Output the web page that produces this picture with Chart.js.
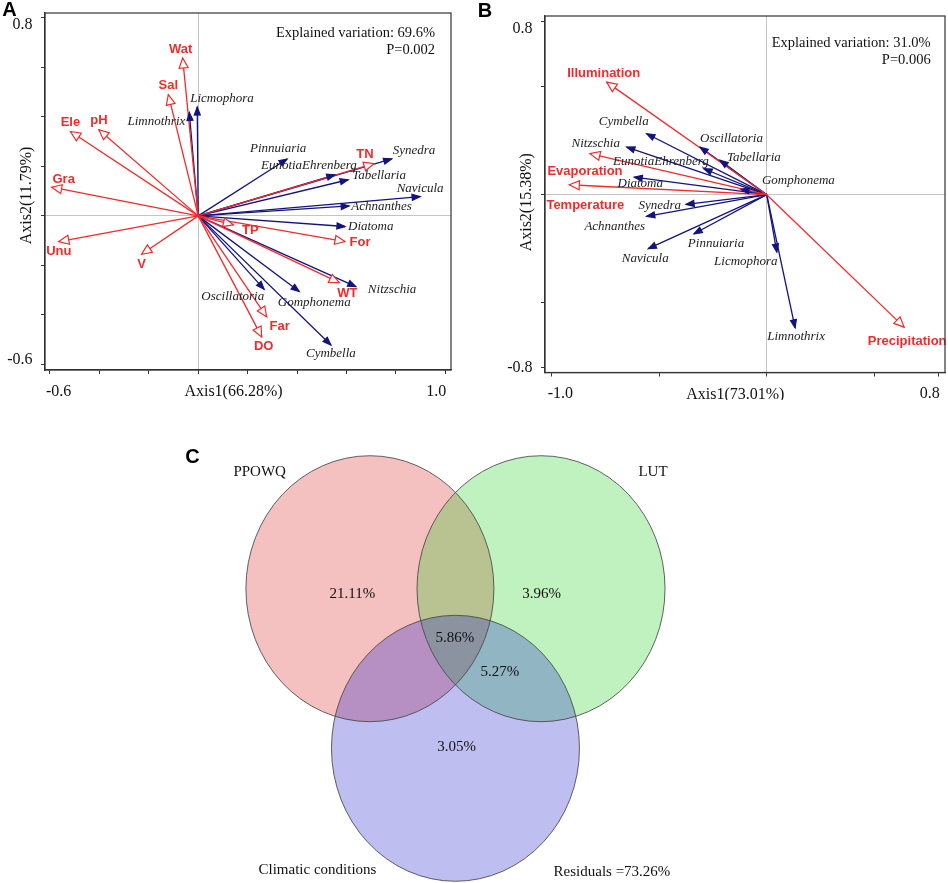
<!DOCTYPE html>
<html>
<head>
<meta charset="utf-8">
<script src="https://cdn.jsdelivr.net/npm/chart.js@4.4.1/dist/chart.umd.min.js"></script>
<style>
  body { margin: 0; background: #fff; width: 948px; height: 883px; position: relative; overflow: hidden; }
  canvas { position: absolute; }
</style>
</head>
<body>
<canvas id="chartA" width="474" height="400" style="left:0;top:0"></canvas>
<canvas id="chartB" width="474" height="400" style="left:474px;top:0"></canvas>
<canvas id="chartC" width="948" height="483" style="left:0;top:400px"></canvas>
<script>
// ---- Panel A: RDA, water quality / land use ----
const envNamesA = ['Wat', 'Sal', 'Ele', 'pH', 'Gra', 'Unu', 'V', 'TP', 'For', 'WT', 'Far', 'DO', 'TN'];
const envXA = [-0.063, -0.121, -0.517, -0.402, -0.593, -0.564, -0.229, 0.142, 0.594, 0.571, 0.277, 0.257, 0.711];
const envYA = [0.638, 0.49, 0.341, 0.348, 0.116, -0.104, -0.155, -0.036, -0.104, -0.27, -0.408, -0.489, 0.211];
const spNamesA = ['Licmophora', 'Limnothrix', 'Pinnuiaria', 'EunotiaEhrenberg', 'Tabellaria', 'Synedra', 'Navicula',
                  'Achnanthes', 'Diatoma', 'Nitzschia', 'Oscillatoria', 'Gomphonema', 'Cymbella'];
const spXA = [-0.004, -0.036, 0.36, 0.553, 0.607, 0.783, 0.898, 0.611, 0.594, 0.638, 0.267, 0.409, 0.537];
const spYA = [0.44, 0.418, 0.23, 0.166, 0.146, 0.23, 0.078, 0.04, -0.043, -0.286, -0.297, -0.306, -0.522];
const xTicksA = [-0.6, -0.4, -0.2, 0, 0.2, 0.4, 0.6, 0.8, 1.0];
const yTicksA = [-0.6, -0.4, -0.2, 0, 0.2, 0.4, 0.6, 0.8];

// ---- Panel B: RDA, climatic conditions ----
const envNamesB = ['Illumination', 'Evaporation', 'Temperature', 'Precipitation'];
const envXB = [-0.744, -0.822, -0.918, 0.639];
const envYB = [0.521, 0.19, 0.046, -0.613];
const spNamesB = ['Cymbella', 'Nitzschia', 'Oscillatoria', 'Tabellaria', 'EunotiaEhrenberg', 'Diatoma', 'Gomphonema',
                  'Synedra', 'Achnanthes', 'Pinnuiaria', 'Navicula', 'Licmophora', 'Limnothrix'];
const spXB = [-0.558, -0.651, -0.31, -0.217, -0.292, -0.616, -0.12, -0.375, -0.558, -0.338, -0.551, 0.047, 0.132];
const spYB = [0.282, 0.22, 0.22, 0.159, 0.12, 0.081, 0.025, -0.045, -0.1, -0.181, -0.25, -0.266, -0.616];
const xTicksB = [-1.0, -0.5, 0, 0.5, 0.8];
const yTicksB = [-0.8, -0.5, 0, 0.5, 0.8];

// ---- Panel C: variation partitioning ----
const vennSets = ['PPOWQ', 'LUT', 'Climatic conditions'];
const vennUnique = [21.11, 3.96, 3.05];     // PPOWQ only, LUT only, climate only
const vennShared = [5.86, 5.27];            // all three, LUT & climate
const vennResidual = 73.26;

// label offsets (px from arrow tip) - layout only
const envLabA = [[-2,-9,'center'],[0,-9,'center'],[0,-9,'center'],[0,-9,'center'],[12,-8,'center'],[0,10,'center'],
                 [0,10,'center'],[17,6,'center'],[15,1,'center'],[8,11,'center'],[13,10,'center'],[2,10,'center'],[-9,-9,'center']];
const spLabA = [[-7,-8,'left'],[-4,9,'right'],[-9,-10,'center'],[-26,-9,'center'],[4,-4,'left'],[1,-8,'left'],[0,-8,'center'],
                [2,1,'left'],[3,0,'left'],[12,3,'left'],[0,7,'right'],[15,11,'center'],[0,9,'center']];
const envLabB = [[-3,-9,'center'],[-5,18,'center'],[16,21,'center'],[3,14,'center']];
const spLabB = [[-23,-12,'center'],[-31,-4,'center'],[0,-9,'left'],[7,-3,'left'],[-43,-7,'center'],[6,6,'center'],[21,-9,'left'],
                [-5,1,'right'],[-32,10,'center'],[22,10,'center'],[-3,10,'center'],[-31,9,'center'],[1,9,'center']];

const RED = '#f22a2a';
const NAVY = '#13137f';
const SERIF = '"Liberation Serif", "Times New Roman", serif';
const SANS = '"Liberation Sans", Arial, sans-serif';

function arrowSets(names, xs, ys, labs, kind) {
    return names.map((n, i) => ({
        label: n,
        kind: kind,
        lab: labs[i],
        data: [{ x: 0, y: 0 }, { x: xs[i], y: ys[i] }],
        showLine: true,
        borderColor: kind === 'env' ? RED : NAVY,
        borderWidth: 1.3,
        pointRadius: 0,
        order: kind === 'env' ? 1 : 2
    }));
}

function drawHead(ctx, p0, p1, len, half, fill, stroke) {
    const a = Math.atan2(p1.y - p0.y, p1.x - p0.x);
    const bx = p1.x - len * Math.cos(a), by = p1.y - len * Math.sin(a);
    ctx.beginPath();
    ctx.moveTo(p1.x, p1.y);
    ctx.lineTo(bx + half * Math.sin(a), by - half * Math.cos(a));
    ctx.lineTo(bx - half * Math.sin(a), by + half * Math.cos(a));
    ctx.closePath();
    ctx.fillStyle = fill;
    ctx.fill();
    ctx.lineWidth = 1.2;
    ctx.strokeStyle = stroke;
    ctx.stroke();
}

const biplotPlugin = {
    id: 'biplot',
    afterDatasetsDraw(chart, args, o) {
        const ctx = chart.ctx;
        ctx.save();
        ctx.textBaseline = 'middle';
        // species first, env on top
        ['spe', 'env'].forEach(kind => {
            chart.data.datasets.forEach((ds, i) => {
                if (ds.kind !== kind) return;
                const pts = chart.getDatasetMeta(i).data;
                const p0 = pts[0], p1 = pts[1];
                if (kind === 'env') drawHead(ctx, p0, p1, 10, 4.5, '#fff', RED);
                else drawHead(ctx, p0, p1, 8, 3, NAVY, NAVY);
                ctx.fillStyle = kind === 'env' ? RED : '#222';
                ctx.font = kind === 'env' ? 'bold 13px ' + SANS : 'italic 13px ' + SERIF;
                ctx.textAlign = ds.lab[2];
                ctx.fillText(ds.label, p1.x + ds.lab[0], p1.y + ds.lab[1]);
            });
        });
        ctx.restore();
    },
    afterDraw(chart, args, o) {
        const ctx = chart.ctx;
        const a = chart.chartArea;
        const xs = chart.scales.x, ys = chart.scales.y;
        ctx.save();
        ctx.strokeStyle = '#333';
        ctx.lineWidth = 1.2;
        ctx.strokeRect(a.left, a.top, a.right - a.left, a.bottom - a.top);

        ctx.fillStyle = '#111';
        ctx.textBaseline = 'middle';
        ctx.font = '16px ' + SERIF;
        // end tick labels only
        const xt = o.xTicks, yt = o.yTicks;
        ctx.textAlign = 'left';
        ctx.fillText(xt[0].toFixed(1), xs.getPixelForValue(xt[0]) - 4, a.bottom + 21.5);
        ctx.textAlign = 'right';
        ctx.fillText(xt[xt.length - 1].toFixed(1), xs.getPixelForValue(xt[xt.length - 1]) + 1, a.bottom + 21.5);
        ctx.fillText(yt[yt.length - 1].toFixed(1), a.left - 12.5, ys.getPixelForValue(yt[yt.length - 1]) + 7);
        ctx.fillText(yt[0].toFixed(1), a.left - 12.5, ys.getPixelForValue(yt[0]) + o.yLowDy);

        // axis titles
        ctx.textAlign = 'center';
        ctx.fillText(o.xTitle, (a.left + a.right) / 2 + o.xTitleDx, a.bottom + 22);
        ctx.save();
        ctx.translate(a.left - 18.5, (a.top + a.bottom) / 2 + o.yTitleDy);
        ctx.rotate(-Math.PI / 2);
        ctx.fillText(o.yTitle, 0, 0);
        ctx.restore();

        // explained variation
        ctx.font = '14.5px ' + SERIF;
        ctx.textAlign = 'right';
        ctx.fillText(o.note, a.right - o.noteDx, a.top + o.noteDy);
        ctx.fillText(o.pval, a.right - o.noteDx, a.top + o.noteDy + 17);

        // panel letter
        ctx.font = 'bold 20px ' + SANS;
        ctx.textAlign = 'center';
        ctx.fillStyle = '#000';
        ctx.fillText(o.letter, o.letterX, o.letterY);
        ctx.restore();
    }
};

function axisCfg(min, max, ticks) {
    return {
        type: 'linear',
        min: min,
        max: max,
        afterBuildTicks: s => { s.ticks = ticks.map(v => ({ value: v })); },
        ticks: { display: false },
        title: { display: false },
        grid: {
            drawOnChartArea: true,
            drawTicks: true,
            tickLength: 4,
            lineWidth: 1,
            color: c => (c.tick && Math.abs(c.tick.value) < 1e-9) ? '#c4c4c4' : 'rgba(0,0,0,0)',
            tickColor: '#333'
        },
        border: { display: true, color: '#333', width: 1.2 }
    };
}

function makeBiplot(id, datasets, xr, yr, xTicks, yTicks, padding, opts) {
    opts.xTicks = xTicks;
    opts.yTicks = yTicks;
    return new Chart(document.getElementById(id), {
        type: 'scatter',
        data: { datasets: datasets },
        options: {
            responsive: false,
            animation: false,
            layout: { padding: padding },
            plugins: { legend: { display: false }, tooltip: { enabled: false }, biplot: opts },
            scales: { x: axisCfg(xr[0], xr[1], xTicks), y: axisCfg(yr[0], yr[1], yTicks) }
        },
        plugins: [biplotPlugin]
    });
}

makeBiplot('chartA',
    arrowSets(envNamesA, envXA, envYA, envLabA, 'env').concat(arrowSets(spNamesA, spXA, spYA, spLabA, 'spe')),
    [-0.62, 1.023], [-0.623, 0.82], xTicksA, yTicksA,
    { left: 41, top: 13, right: 23, bottom: 26 },
    { letter: 'A', letterX: 9.5, letterY: 10.5, xTitle: 'Axis1(66.28%)', yTitle: 'Axis2(11.79%)', yLowDy: -5,
      xTitleDx: -14.5, yTitleDy: 4, note: 'Explained variation: 69.6%', pval: 'P=0.002', noteDx: 16, noteDy: 20 });

makeBiplot('chartB',
    arrowSets(envNamesB, envXB, envYB, envLabB, 'env').concat(arrowSets(spNamesB, spXB, spYB, spLabB, 'spe')),
    [-1.031, 0.829], [-0.823, 0.827], xTicksB, yTicksB,
    { left: 67, top: 16, right: 3, bottom: 23.5 },
    { letter: 'B', letterX: 11, letterY: 11.5, xTitle: 'Axis1(73.01%)', yTitle: 'Axis2(15.38%)', yLowDy: 0,
      xTitleDx: -9.7, yTitleDy: 8, note: 'Explained variation: 31.0%', pval: 'P=0.006', noteDx: 14.3, noteDy: 27.6 });

// ---- Venn (layout in units of circle radius) ----
const vennCircles = [{ cx: -0.69, cy: 0.6 }, { cx: 0.69, cy: 0.6 }, { cx: 0, cy: -0.6 }];
const vennFills = ['rgba(211,3,3,0.25)', 'rgba(13,205,13,0.26)', 'rgba(23,23,201,0.28)'];
const setLabelPos = [[-1.579, 1.48], [1.593, 1.48], [-1.113, -1.515]];
const uniquePos = [[-0.832, 0.56], [0.695, 0.56], [0.01, -0.588]];
const sharedPos = [[-0.004, 0.232], [0.359, -0.029]];
const residualPos = [1.262, -1.528];

const vennPlugin = {
    id: 'venn',
    afterDatasetsDraw(chart) {
        const ctx = chart.ctx;
        const xs = chart.scales.x, ys = chart.scales.y;
        const px = v => xs.getPixelForValue(v), py = v => ys.getPixelForValue(v);
        ctx.save();
        vennCircles.forEach((c, i) => {
            const rx = px(c.cx + 1) - px(c.cx);
            const ry = py(c.cy) - py(c.cy + 1);
            ctx.beginPath();
            ctx.ellipse(px(c.cx), py(c.cy), rx, ry, 0, 0, Math.PI * 2);
            ctx.fillStyle = vennFills[i];
            ctx.fill();
        });
        vennCircles.forEach(c => {
            const rx = px(c.cx + 1) - px(c.cx);
            const ry = py(c.cy) - py(c.cy + 1);
            ctx.beginPath();
            ctx.ellipse(px(c.cx), py(c.cy), rx, ry, 0, 0, Math.PI * 2);
            ctx.strokeStyle = 'rgba(70,70,70,0.85)';
            ctx.lineWidth = 1;
            ctx.stroke();
        });
        ctx.fillStyle = '#111';
        ctx.textBaseline = 'middle';
        ctx.textAlign = 'center';
        ctx.font = '15px ' + SERIF;
        vennSets.forEach((s, i) => ctx.fillText(s, px(setLabelPos[i][0]), py(setLabelPos[i][1])));
        vennUnique.forEach((v, i) => ctx.fillText(v.toFixed(2) + '%', px(uniquePos[i][0]), py(uniquePos[i][1])));
        vennShared.forEach((v, i) => ctx.fillText(v.toFixed(2) + '%', px(sharedPos[i][0]), py(sharedPos[i][1])));
        ctx.fillText('Residuals =' + vennResidual.toFixed(2) + '%', px(residualPos[0]), py(residualPos[1]));
        ctx.font = 'bold 20px ' + SANS;
        ctx.fillStyle = '#000';
        ctx.fillText('C', 192.5, 57.5);
        ctx.restore();
    }
};

new Chart(document.getElementById('chartC'), {
    type: 'scatter',
    data: { datasets: [{ data: vennCircles.map(c => ({ x: c.cx, y: c.cy })), pointRadius: 0 }] },
    options: {
        responsive: false,
        animation: false,
        layout: { padding: 0 },
        plugins: { legend: { display: false }, tooltip: { enabled: false } },
        scales: {
            x: { type: 'linear', min: -3.673, max: 3.972, display: false },
            y: { type: 'linear', min: -1.613, max: 2.019, display: false }
        }
    },
    plugins: [vennPlugin]
});
</script>
</body>
</html>
